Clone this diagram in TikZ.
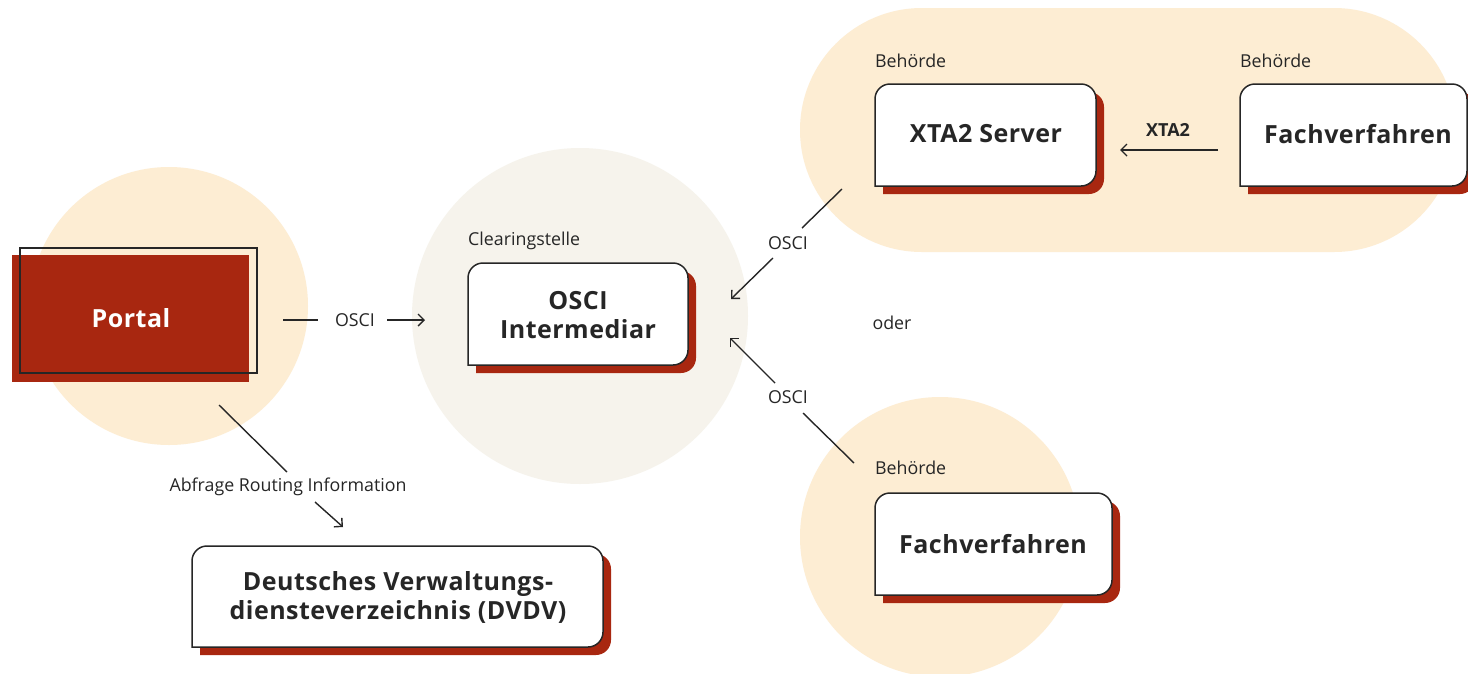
\documentclass[tikz,border=0pt]{standalone}
\usepackage{fontspec}
\setmainfont{Open Sans}
\newfontfamily\widebold[LetterSpace=2]{Open Sans}
\usetikzlibrary{arrows.meta}
\definecolor{cream}{HTML}{FDEDD3}
\definecolor{paper}{HTML}{F6F3EC}
\definecolor{brick}{HTML}{A82710}
\definecolor{ink}{HTML}{262626}
\newcommand\cardbox[4]{%
  \fill[brick, rounded corners=15pt] (#1+8,#4+8) -- (#1+8,#2+8) -- (#3+8,#2+8) -- (#3+8,#4+8) -- (#1+8,#4+8);
  \filldraw[fill=white, draw=ink, line width=1.5pt, rounded corners=15pt, line cap=rect] (#1,#4) -- (#1,#2) -- (#3,#2) -- (#3,#4) -- (#1,#4);
}
\tikzset{
  big/.style={font=\widebold\fontsize{25}{29}\selectfont\bfseries, text=ink, align=center, inner sep=0pt},
  small/.style={font=\fontsize{17.8}{20}\selectfont, text=ink, inner sep=0pt},
  conn/.style={draw=ink, line width=1.4pt},
  tip/.style={conn, -{Straight Barb[length=6pt,width=12pt,line width=1.4pt]}}
}
\begin{document}
\begin{tikzpicture}[x=1pt,y=-1pt]
\useasboundingbox (0,0) rectangle (1468,673);
\fill[white] (0,0) rectangle (1468,673);
% background zones
\fill[cream] (169,306) circle (139);
\fill[paper] (580,316) circle (168);
\fill[cream, rounded corners=122pt] (800,8) rectangle (1456,252);
\fill[cream] (940,537) circle (140);
% Portal
\fill[brick] (12,255) rectangle (249,382);
\draw[ink, line width=1.5pt] (20,248) rectangle (257,373);
\node[big, text=white] (portal) at (131,318) {Portal};
% cards
\cardbox{468}{263}{688}{365}
\node[big] (osci) at (578,315) {OSCI\\Intermediar};
\node[small, anchor=west] (clear) at (468,241) {Clearingstelle};
\cardbox{875}{84}{1096}{186}
\node[big] (xta) at (986,134) {XTA2 Server};
\node[small, anchor=west] (beh1) at (875,61) {Behörde};
\cardbox{1240}{84}{1467}{186}
\node[big] (fv1) at (1358,134) {Fachverfahren};
\node[small, anchor=west] (beh2) at (1240,61) {Behörde};
\cardbox{875}{493}{1112}{595}
\node[big] (fv2) at (993,544) {Fachverfahren};
\node[small, anchor=west] (beh3) at (875,468) {Behörde};
\cardbox{192}{546}{603}{647}
\node[big] (dvdv) at (398,597) {Deutsches Verwaltungs-\\diensteverzeichnis (DVDV)};
% labels
\node[small] (o1) at (355,320) {OSCI};
\node[small] (o2) at (788,243) {OSCI};
\node[small] (o3) at (788,397) {OSCI};
\node[small] (oder) at (892,323) {oder};
\node[small] (abf) at (288,487) {Abfrage Routing Information};
\node[small, font=\fontsize{18}{20}\selectfont\bfseries] (x2) at (1168,130) {XTA2};
% connector ends
\coordinate (a1) at (283,320); \coordinate (a2) at (318,320);
\coordinate (a3) at (387,320); \coordinate (a4) at (425,320);
\coordinate (b1) at (842,189); \coordinate (b2) at (802,228);
\coordinate (b3) at (773,258); \coordinate (b4) at (731,299);
\coordinate (c1) at (854,463); \coordinate (c2) at (803,413);
\coordinate (c3) at (775,383); \coordinate (c4) at (730,338);
\coordinate (d1) at (219,405); \coordinate (d2) at (287,472);
\coordinate (d3) at (315,502); \coordinate (d4) at (343,527);
\coordinate (e1) at (1218,150); \coordinate (e2) at (1120,150);
\draw[conn] (a1) -- (a2);
\draw[tip] (a3) -- (a4);
\draw[conn] (b1) -- (b2);
\draw[tip] (b3) -- (b4);
\draw[conn] (c1) -- (c2);
\draw[tip] (c3) -- (c4);
\draw[conn] (d1) -- (d2);
\draw[tip] (d3) -- (d4);
\draw[tip] (e1) -- (e2);
\end{tikzpicture}
\end{document}
